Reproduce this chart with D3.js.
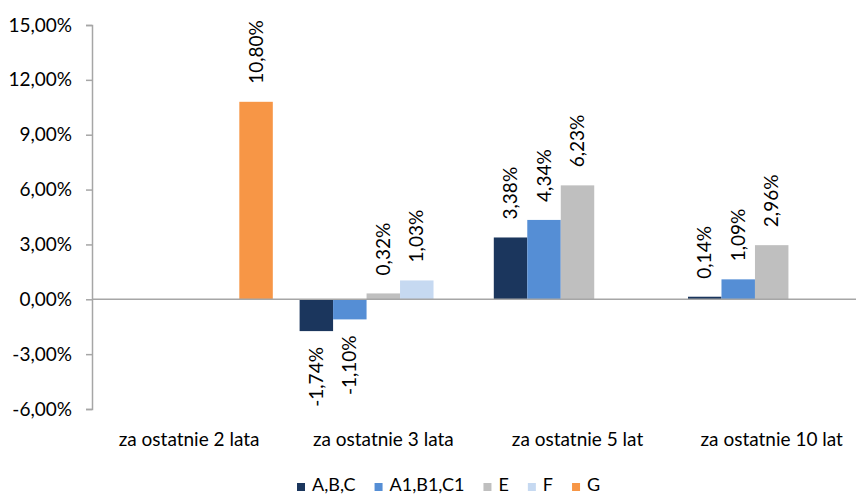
<!DOCTYPE html>
<html>
<head>
<meta charset="utf-8">
<script src="https://cdn.jsdelivr.net/npm/d3@7"></script>
<style>
  body { margin: 0; background: #fff; }
  text { font-family: Lato, "Open Sans", sans-serif; fill: #000; }
</style>
</head>
<body>
<div id="chart"></div>
<script>
var categories = ["za ostatnie 2 lata", "za ostatnie 3 lata", "za ostatnie 5 lat", "za ostatnie 10 lat"];
var seriesNames = ["A,B,C", "A1,B1,C1", "E", "F", "G"];
var seriesColors = ["#1b365d", "#558ed5", "#bfbfbf", "#c6d9f1", "#f79646"];
// values per series, null = no bar
var valABC   = [null, -1.74, 3.38, 0.14];
var valA1B1C1 = [null, -1.10, 4.34, 1.09];
var valE     = [null, 0.32, 6.23, 2.96];
var valF     = [null, 1.03, null, null];
var valG     = [10.80, null, null, null];
var yTicks = [-6, -3, 0, 3, 6, 9, 12, 15];

var seriesValues = [valABC, valA1B1C1, valE, valF, valG];

var width = 856, height = 495;
var fs = "19px";

var svg = d3.select("#chart").append("svg")
    .attr("width", width)
    .attr("height", height);

var y = d3.scaleLinear().domain([-6, 15]).range([409, 25]);

var x0 = d3.scaleBand().domain(categories).range([92, 868.8]).padding(0);
var x1 = d3.scaleBand().domain(seriesNames).range([13.4, x0.bandwidth() - 13.4]).padding(0);

var fmt = function (v) { return v.toFixed(2).replace(".", ",") + "%"; };

// bars
var bars = [];
seriesValues.forEach(function (vals, si) {
    vals.forEach(function (v, ci) {
        if (v !== null) bars.push({ s: seriesNames[si], c: categories[ci], v: v, color: seriesColors[si] });
    });
});

svg.selectAll("rect.bar")
    .data(bars)
    .enter().append("rect")
    .attr("class", "bar")
    .attr("x", function (d) { return x0(d.c) + x1(d.s); })
    .attr("width", x1.bandwidth())
    .attr("y", function (d) { return y(Math.max(0, d.v)); })
    .attr("height", function (d) { return Math.abs(y(d.v) - y(0)); })
    .style("fill", function (d) { return d.color; });

// y axis
var yAxis = d3.axisLeft(y)
    .tickValues(yTicks)
    .tickSize(6)
    .tickFormat(fmt);

var gy = svg.append("g")
    .attr("transform", "translate(92,0)")
    .call(yAxis);
gy.select(".domain").style("stroke", "#a6a6a6").style("stroke-width", 1.5);
gy.selectAll(".tick line").style("stroke", "#a6a6a6").style("stroke-width", 1.5);
gy.selectAll(".tick text")
    .attr("x", -20)
    .style("font-size", fs)
    .style("font-family", "Lato, sans-serif");

// zero line
svg.append("line")
    .attr("x1", 92).attr("x2", width)
    .attr("y1", y(0)).attr("y2", y(0))
    .style("stroke", "#a6a6a6")
    .style("stroke-width", 1.5);

// data labels
svg.selectAll("text.lbl")
    .data(bars)
    .enter().append("text")
    .attr("class", "lbl")
    .attr("transform", function (d) {
        var cx = x0(d.c) + x1(d.s) + x1.bandwidth() / 2;
        var cy = d.v >= 0 ? y(d.v) - 18 : y(d.v) + 16;
        return "translate(" + cx + "," + cy + ") rotate(-90)";
    })
    .attr("dy", "0.35em")
    .attr("text-anchor", function (d) { return d.v >= 0 ? "start" : "end"; })
    .style("font-size", fs)
    .text(function (d) { return fmt(d.v); });

// category labels
svg.selectAll("text.cat")
    .data(categories)
    .enter().append("text")
    .attr("class", "cat")
    .attr("x", function (d) { return Math.min(x0(d) + x0.bandwidth() / 2, 772); })
    .attr("y", 446)
    .attr("text-anchor", "middle")
    .style("font-size", fs)
    .text(function (d) { return d; });

// legend
var lx = 297;
seriesNames.forEach(function (name, i) {
    svg.append("rect")
        .attr("x", lx).attr("y", 483)
        .attr("width", 8).attr("height", 8)
        .style("fill", seriesColors[i]);
    var t = svg.append("text")
        .attr("x", lx + 15).attr("y", 491)
        .style("font-size", "18px")
        .text(name);
    lx += 15 + t.node().getComputedTextLength() + 19;
});
</script>
</body>
</html>
